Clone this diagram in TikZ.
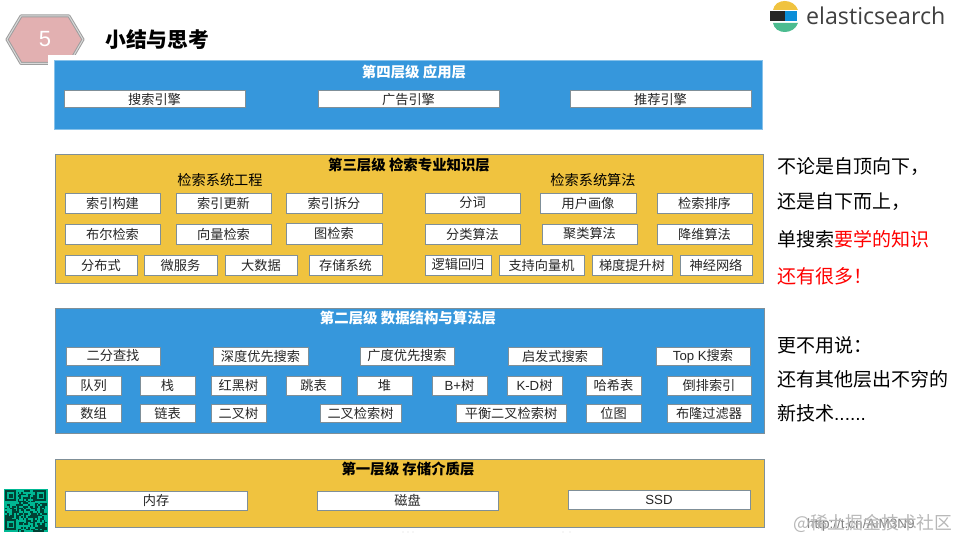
\documentclass[tikz,border=0pt]{standalone}
\usepackage{fontspec}
\setmainfont{Noto Sans CJK SC}
\newfontfamily\latinfont{Liberation Sans}
\newfontfamily\logofont{Open Sans}
\definecolor{tierblue}{HTML}{3697DC}
\definecolor{tieryellow}{HTML}{F0C33F}
\definecolor{edgegrey}{HTML}{7F8F98}
\definecolor{qrgreen}{HTML}{00B894}
\definecolor{badgepink}{HTML}{E2B0B1}
\tikzset{
 x=1pt,y=-1pt,
 tierbox/.style={draw=edgegrey,line width=1pt,anchor=north west,inner sep=0pt},
 itembox/.style={draw=edgegrey,line width=1pt,fill=white,inner sep=0pt,font=\fontsize{13.2}{13.2}\selectfont,text=black!85},
 tiertitle/.style={font=\fontsize{14.4}{14.4}\selectfont\bfseries},
 subtitle/.style={font=\fontsize{14.2}{14.2}\selectfont,text=black},
 sidetext/.style={anchor=west,font=\fontsize{19}{19}\selectfont,text=black,inner sep=0pt},
}
% name, x0, y0, x1, y1, text
\newcommand{\itm}[6]{\pgfmathsetmacro{\wdv}{#4-#2}\pgfmathsetmacro{\htv}{#5-#3}%
 \node[itembox,minimum width=\wdv pt,minimum height=\htv pt] (#1) at ({(#2+#4)/2},{(#3+#5)/2}) {#6};}
\newcommand{\tier}[6]{\pgfmathsetmacro{\wdv}{#4-#2}\pgfmathsetmacro{\htv}{#5-#3}%
 \node[tierbox,fill=#6,minimum width=\wdv pt,minimum height=\htv pt] (#1) at (#2,#3) {};}
\begin{document}
\begin{tikzpicture}
\useasboundingbox (0,0) rectangle (960,540);
\fill[white] (0,0) rectangle (960,540);
% badge
\draw[fill=badgepink,draw=black!38,line width=3pt,line join=round] (7,39.5) -- (21,16) -- (69,16) -- (83,39.5) -- (69,63.5) -- (21,63.5) -- cycle;
\draw[draw=white!85!black,line width=1pt,line join=round] (7,39.5) -- (21,16) -- (69,16) -- (83,39.5) -- (69,63.5) -- (21,63.5) -- cycle;
\node[font=\fontsize{22}{22}\selectfont\latinfont,text=white,inner sep=0pt] (badge) at (45,39) {5};
\fill[white] (48,55) rectangle (90,70);
\node[anchor=west,font=\fontsize{20.8}{20.8}\selectfont\bfseries,inner sep=0pt] (title) at (105,40) {小结与思考};
% logo
\fill[tieryellow] (773,10) .. controls (775,-2) and (794,-2) .. (798,10) -- cycle;
\fill[black!85] (770,11.5) rectangle (785,21);
\fill[cyan!75!blue] (785,11.5) rectangle (797,21);
\fill[teal!75!green!70!white] (773,23) .. controls (775,35) and (794,35) .. (798,23) -- cycle;
\node[anchor=west,font=\fontsize{23.2}{23.2}\selectfont\logofont,text=black!75,inner sep=0pt] (logo) at (806,16) {elasticsearch};
% tier 4
\node[tierbox,draw=tierblue!60!white,fill=tierblue,minimum width=708pt,minimum height=69pt] (t4) at (54,60) {};
\node[tiertitle,text=white] (t4t) at (414,72) {第四层级 应用层};
\itm{a1}{64}{91}{245}{108}{搜索引擎}
\itm{a2}{318}{91}{499}{108}{广告引擎}
\itm{a3}{570}{91}{751}{108}{推荐引擎}
% tier 3
\tier{t3}{55}{154}{763}{283}{tieryellow}
\node[tiertitle,text=black] (t3t) at (409,165) {第三层级 检索专业知识层};
\node[subtitle] (s1) at (220,180) {检索系统工程};
\node[subtitle] (s2) at (593,180) {检索系统算法};
\itm{b1}{65}{193}{160}{213}{索引构建}
\itm{b2}{176}{193}{271}{213}{索引更新}
\itm{b3}{286}{193}{382}{213}{索引拆分}
\itm{b4}{425}{193}{520}{213}{分词}
\itm{b5}{540}{193}{636}{213}{用户画像}
\itm{b6}{657}{193}{752}{213}{检索排序}
\itm{c1}{65}{224}{160}{244}{布尔检索}
\itm{c2}{176}{224}{271}{244}{向量检索}
\itm{c3}{286}{223}{382}{244}{图检索}
\itm{c4}{425}{224}{520}{244}{分类算法}
\itm{c5}{542}{224}{637}{244}{聚类算法}
\itm{c6}{657}{224}{752}{244}{降维算法}
\itm{d1}{65}{255}{137}{275}{分布式}
\itm{d2}{144}{255}{217}{275}{微服务}
\itm{d3}{225}{255}{297}{275}{大数据}
\itm{d4}{309}{255}{382}{275}{存储系统}
\itm{d5}{425}{255}{491}{275}{逻辑回归}
\itm{d6}{499}{255}{584}{275}{支持向量机}
\itm{d7}{592}{255}{672}{275}{梯度提升树}
\itm{d8}{680}{255}{752}{275}{神经网络}
% tier 2
\tier{t2}{55}{308}{764}{433}{tierblue}
\node[tiertitle,text=white] (t2t) at (408,318) {第二层级 数据结构与算法层};
\itm{e1}{66}{347}{160}{365}{二分查找}
\itm{e2}{213}{347}{308}{365}{深度优先搜索}
\itm{e3}{360}{347}{454}{365}{广度优先搜索}
\itm{e4}{508}{347}{602}{365}{启发式搜索}
\itm{e5}{656}{347}{750}{365}{\latinfont Top K\normalfont 搜索}
\itm{f1}{66}{376}{121}{395}{队列}
\itm{f2}{140}{376}{195}{395}{栈}
\itm{f3}{211}{376}{266}{395}{红黑树}
\itm{f4}{286}{376}{341}{395}{跳表}
\itm{f5}{357}{376}{412}{395}{堆}
\itm{f6}{432}{376}{487}{395}{\latinfont B+\normalfont 树}
\itm{f7}{507}{376}{562}{395}{\latinfont K-D\normalfont 树}
\itm{f8}{586}{376}{641}{395}{哈希表}
\itm{f9}{667}{376}{751}{395}{倒排索引}
\itm{g1}{66}{404}{121}{422}{数组}
\itm{g2}{140}{404}{195}{422}{链表}
\itm{g3}{211}{404}{266}{422}{二叉树}
\itm{g4}{320}{404}{401}{422}{二叉检索树}
\itm{g5}{456}{404}{566}{422}{平衡二叉检索树}
\itm{g6}{586}{404}{641}{422}{位图}
\itm{g7}{667}{404}{751}{422}{布隆过滤器}
% tier 1
\tier{t1}{55}{459}{764}{527}{tieryellow}
\node[tiertitle,text=black] (t1t) at (408,469) {第一层级 存储介质层};
\itm{h1}{65}{491}{247}{510}{内存}
\itm{h2}{317}{491}{498}{510}{磁盘}
\itm{h3}{568}{490}{750}{509}{\latinfont SSD}
% specks under tier 1
\foreach \sx in {403,408,413,563,570}{\fill[black!40] (\sx,532) circle (0.4);}
% side text
\node[sidetext] (n1) at (777,167) {不论是自顶向下，};
\node[sidetext] (n2) at (777,202) {还是自下而上，};
\node[sidetext] (n3) at (777,239) {单搜索\textcolor{red}{要学的知识}};
\node[sidetext,text=red] (n4) at (777,276) {还有很多！};
\node[sidetext] (n5) at (777,345) {更不用说：};
\node[sidetext] (n6) at (777,379) {还有其他层出不穷的};
\node[sidetext] (n7) at (777,413) {新技术{\latinfont ......}};
% QR
\fill[qrgreen] (4,489) rectangle (48,532);
\pgfmathsetseed{7}
\foreach \i in {0,...,23}{\foreach \j in {0,...,23}{
  \pgfmathparse{rnd<0.48 ? 1 : 0}
  \ifnum\pgfmathresult=1\relax
   \fill[black!65!qrgreen] ({5+\i*1.75},{490+\j*1.75}) rectangle ++(1.75,1.75);
  \fi}}
\foreach \qx/\qy in {5/490,35/490,5/519}{
 \fill[qrgreen] (\qx-0.5,\qy-0.5) rectangle ++(13,13);
 \draw[black!65!qrgreen,line width=1.5pt] (\qx+1,\qy+1) rectangle ++(9,9);
 \fill[black!65!qrgreen] (\qx+3.5,\qy+3.5) rectangle ++(4,4);}
% watermark
\node[anchor=west,font=\fontsize{13.5}{13.5}\selectfont\latinfont,text=black!50,inner sep=0pt] (wm1) at (807,525) {http://t.cn/AiM3N9};
\node[anchor=west,font=\fontsize{17.8}{17.8}\selectfont,text=black!28,inner sep=0pt] (wm2) at (793,523) {@稀土掘金技术社区};
\end{tikzpicture}
\end{document}
